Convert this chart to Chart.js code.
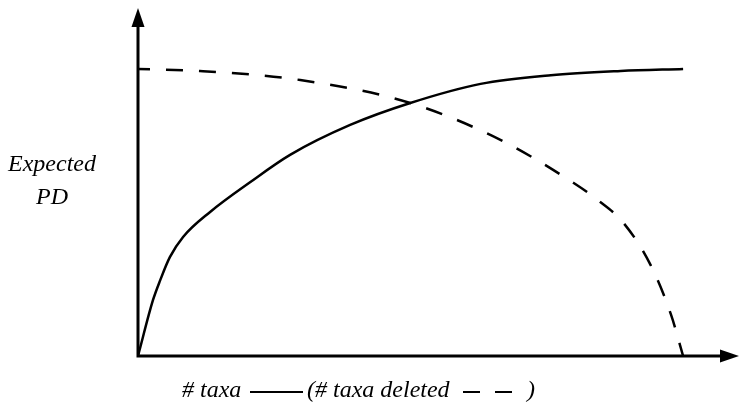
<!DOCTYPE html>
<html>
<head>
<meta charset="utf-8">
<script src="https://cdn.jsdelivr.net/npm/chart.js@4/dist/chart.umd.min.js"></script>
<style>
    html, body { margin: 0; padding: 0; background: #fff; }
    #wrap { position: relative; width: 739px; height: 403px; }
    #pd { width: 739px; height: 403px; display: block; }
    .lbl {
        position: absolute;
        font-family: 'Liberation Serif', 'Times New Roman', serif;
        font-style: italic;
        font-size: 24px;
        line-height: 24px;
        color: #000;
        white-space: nowrap;
    }
    .key { position: absolute; height: 0; border-top: 2px solid #000; }
</style>
</head>
<body>
<div id="wrap">
    <canvas id="pd" width="739" height="403"></canvas>
    <div class="lbl" style="left:0; top:147px; width:104px; text-align:center; line-height:33px;">Expected<br>PD</div>
    <div class="lbl" style="left:182px; top:377px;"># taxa</div>
    <div class="key" style="left:250px; top:391px; width:53px;"></div>
    <div class="lbl" style="left:307px; top:377px;">(# taxa deleted</div>
    <div class="key" style="left:463px; top:391px; width:17px;"></div>
    <div class="key" style="left:495px; top:391px; width:17px;"></div>
    <div class="lbl" style="left:527px; top:377px;">)</div>
</div>
<script>
// Expected PD against number of taxa kept (solid) and deleted (dashed)
const taxaX     = [0, 2.5, 3.7, 5.3, 7.5, 12, 18.7, 25.3, 35.3, 45.3, 57, 68.7, 80.3, 90.7];
const taxaPD    = [0, 16.1, 21.8, 28.4, 34.2, 41.4, 50, 57.8, 66.4, 72.7, 78.2, 80.7, 81.9, 82.5];

const deletedX  = [0, 10.3, 27, 45.3, 60.3, 72.5, 76.5, 80.8, 85.3, 88.7, 90.7];
const deletedPD = [82.5, 81.9, 79.3, 72.7, 62.1, 49.7, 44.8, 38.2, 26.1, 11.8, 0];

const toPoints = (xs, ys) => xs.map((x, i) => ({ x: x, y: ys[i] }));

// Plain axes with arrowheads, drawn from the scale edges
const arrowAxes = {
    id: 'arrowAxes',
    afterDatasetsDraw(chart) {
        const ctx = chart.ctx;
        const x0 = chart.scales.x.getPixelForValue(0);
        const x1 = chart.scales.x.getPixelForValue(100);
        const y0 = chart.scales.y.getPixelForValue(0);
        const y1 = chart.scales.y.getPixelForValue(100);
        const head = 19, half = 6.5;
        ctx.save();
        ctx.strokeStyle = '#000';
        ctx.fillStyle = '#000';
        ctx.lineWidth = 3;
        ctx.beginPath();
        ctx.moveTo(x0, y1 + head);
        ctx.lineTo(x0, y0);
        ctx.lineTo(x1 - head, y0);
        ctx.stroke();
        // y arrow
        ctx.beginPath();
        ctx.moveTo(x0, y1);
        ctx.lineTo(x0 - half, y1 + head);
        ctx.lineTo(x0 + half, y1 + head);
        ctx.closePath();
        ctx.fill();
        // x arrow
        ctx.beginPath();
        ctx.moveTo(x1, y0);
        ctx.lineTo(x1 - head, y0 - half);
        ctx.lineTo(x1 - head, y0 + half);
        ctx.closePath();
        ctx.fill();
        ctx.restore();
    }
};

new Chart(document.getElementById('pd').getContext('2d'), {
    type: 'line',
    data: {
        datasets: [{
            label: '# taxa',
            data: toPoints(taxaX, taxaPD),
            borderColor: '#000',
            borderWidth: 2.5,
            pointRadius: 0,
            cubicInterpolationMode: 'monotone',
            fill: false
        }, {
            label: '# taxa deleted',
            data: toPoints(deletedX, deletedPD),
            borderColor: '#000',
            borderWidth: 2.5,
            borderDash: [17, 16],
            borderDashOffset: 5,
            pointRadius: 0,
            cubicInterpolationMode: 'monotone',
            fill: false
        }]
    },
    options: {
        responsive: false,
        animation: false,
        layout: { padding: { left: 138, right: 0, top: 8, bottom: 47 } },
        plugins: {
            legend: { display: false },
            tooltip: { enabled: false }
        },
        scales: {
            x: { type: 'linear', min: 0, max: 100, display: false },
            y: { min: 0, max: 100, display: false }
        }
    },
    plugins: [arrowAxes]
});
</script>
</body>
</html>
